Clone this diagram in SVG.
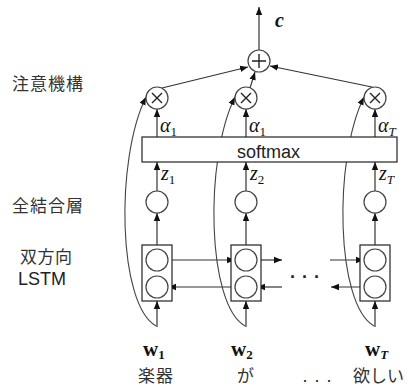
<svg xmlns="http://www.w3.org/2000/svg" width="407" height="389" viewBox="0 0 407 389">
<style>
.ln{stroke:#333;stroke-width:1.2;fill:none}
.cv{stroke:#444;stroke-width:1.1;fill:none}
.cir{stroke:#444;stroke-width:1.2;fill:#fff}
.box{stroke:#222;stroke-width:1.2;fill:#fff}
.jp{font-family:"Noto Sans CJK JP","Noto Sans",sans-serif;font-size:17px;fill:#333}
.sans{font-family:"Liberation Sans",Arial,sans-serif;fill:#222}
.m{font-family:"Liberation Serif","DejaVu Serif",serif;font-style:italic;font-size:20px;fill:#111}
.sub{font-size:13px}
.up{font-style:normal}
.w{font-family:"Liberation Serif","DejaVu Serif",serif;font-weight:bold;font-size:21px;fill:#111}
.op{stroke:#222;stroke-width:1.4;fill:none}
</style>
<defs>
<marker id="ah" viewBox="0 0 8 8" refX="8" refY="4" markerWidth="8" markerHeight="8" markerUnits="userSpaceOnUse" orient="auto">
<path d="M0,0.8 L8,4 L0,7.2 z" fill="#111"/>
</marker>
</defs>
<g id="labels-left">
<text class="jp" x="12" y="90" letter-spacing="1">注意機構</text>
<text class="jp" x="12" y="212" letter-spacing="1">全結合層</text>
<text class="jp" x="20" y="263" letter-spacing="0.5">双方向</text>
<text class="sans" x="18" y="285" font-size="18" fill="#333">LSTM</text>
</g>
<g id="connectors">
<line class="ln" x1="259" y1="50" x2="259" y2="7" marker-end="url(#ah)"/>
<line class="ln" x1="162" y1="88" x2="248" y2="67" marker-end="url(#ah)"/>
<line class="ln" x1="250" y1="88" x2="255" y2="72" marker-end="url(#ah)"/>
<line class="ln" x1="372" y1="87" x2="270" y2="66" marker-end="url(#ah)"/>
<line class="ln" x1="157" y1="137" x2="157" y2="109" marker-end="url(#ah)"/>
<line class="ln" x1="246" y1="137" x2="246" y2="109" marker-end="url(#ah)"/>
<line class="ln" x1="375" y1="137" x2="375" y2="109" marker-end="url(#ah)"/>
<line class="ln" x1="157" y1="191" x2="157" y2="162" marker-end="url(#ah)"/>
<line class="ln" x1="246" y1="191" x2="246" y2="162" marker-end="url(#ah)"/>
<line class="ln" x1="375" y1="191" x2="375" y2="162" marker-end="url(#ah)"/>
<line class="ln" x1="157" y1="245" x2="157" y2="213" marker-end="url(#ah)"/>
<line class="ln" x1="246" y1="245" x2="246" y2="213" marker-end="url(#ah)"/>
<line class="ln" x1="375" y1="245" x2="375" y2="213" marker-end="url(#ah)"/>
<line class="ln" x1="157" y1="327" x2="157" y2="301" marker-end="url(#ah)"/>
<line class="ln" x1="246" y1="327" x2="246" y2="301" marker-end="url(#ah)"/>
<line class="ln" x1="375" y1="327" x2="375" y2="301" marker-end="url(#ah)"/>
<line class="ln" x1="168" y1="260" x2="235" y2="260" marker-end="url(#ah)"/>
<line class="ln" x1="257" y1="260" x2="282" y2="260" marker-end="url(#ah)"/>
<line class="ln" x1="330" y1="260" x2="364" y2="260" marker-end="url(#ah)"/>
<line class="ln" x1="235" y1="287" x2="168" y2="287" marker-end="url(#ah)"/>
<line class="ln" x1="282" y1="287" x2="257" y2="287" marker-end="url(#ah)"/>
<line class="ln" x1="364" y1="287" x2="331" y2="287" marker-end="url(#ah)"/>
<path class="cv" d="M156,326 C118,305 115,160 146,97" marker-end="url(#ah)"/>
<path class="cv" d="M245,326 C207,305 204,160 235,97" marker-end="url(#ah)"/>
<path class="cv" d="M374,326 C336,305 333,160 364,97" marker-end="url(#ah)"/>
</g>
<g id="sum">
<circle class="cir" cx="259" cy="61" r="11"/>
<path class="op" d="M252,61 H266 M259,54 V68"/>
<text class="m" x="275" y="27" font-weight="bold" font-size="22">c</text>
</g>
<g id="mul1">
<circle class="cir" cx="157" cy="98" r="11"/>
<path class="op" d="M152,93 L162,103 M162,93 L152,103"/>
</g>
<g id="mul2">
<circle class="cir" cx="246" cy="98" r="11"/>
<path class="op" d="M241,93 L251,103 M251,93 L241,103"/>
</g>
<g id="mulT">
<circle class="cir" cx="375" cy="98" r="11"/>
<path class="op" d="M370,93 L380,103 M380,93 L370,103"/>
</g>
<g id="alpha-labels">
<text class="m" x="160" y="132">α<tspan class="sub up" dy="4">1</tspan></text>
<text class="m" x="249" y="132">α<tspan class="sub up" dy="4">1</tspan></text>
<text class="m" x="378" y="132">α<tspan class="sub" dy="4">T</tspan></text>
</g>
<g id="softmax">
<rect class="box" x="142" y="137" width="255" height="25"/>
<text class="sans" x="268.5" y="158" font-size="18" text-anchor="middle">softmax</text>
</g>
<g id="z-labels">
<text class="m" x="161" y="180">z<tspan class="sub up" dy="4">1</tspan></text>
<text class="m" x="250" y="180">z<tspan class="sub up" dy="4">2</tspan></text>
<text class="m" x="379" y="180">z<tspan class="sub" dy="4">T</tspan></text>
</g>
<g id="fc1"><circle class="cir" cx="157" cy="202" r="11"/></g>
<g id="fc2"><circle class="cir" cx="246" cy="202" r="11"/></g>
<g id="fcT"><circle class="cir" cx="375" cy="202" r="11"/></g>
<g id="lstm1">
<rect class="box" x="142" y="245" width="30" height="56"/>
<circle class="cir" cx="157" cy="260" r="11"/>
<circle class="cir" cx="157" cy="287" r="11"/>
</g>
<g id="lstm2">
<rect class="box" x="231" y="245" width="30" height="56"/>
<circle class="cir" cx="246" cy="260" r="11"/>
<circle class="cir" cx="246" cy="287" r="11"/>
</g>
<g id="lstmT">
<rect class="box" x="360" y="245" width="30" height="56"/>
<circle class="cir" cx="375" cy="260" r="11"/>
<circle class="cir" cx="375" cy="287" r="11"/>
</g>
<text class="sans" x="290" y="283" font-size="18" font-weight="bold" letter-spacing="6">···</text>
<g id="inputs">
<text class="w" x="143" y="356">w<tspan class="sub" font-weight="bold" dy="3">1</tspan></text>
<text class="w" x="231" y="356">w<tspan class="sub" font-weight="bold" dy="3">2</tspan></text>
<text class="w" x="365" y="356">w<tspan class="sub" font-style="italic" dy="3">T</tspan></text>
<text class="jp" x="138" y="382" letter-spacing="1">楽器</text>
<text class="jp" x="237" y="382">が</text>
<text class="sans" x="302" y="386" font-size="18" letter-spacing="6">···</text>
<text class="jp" x="353" y="382">欲しい</text>
</g>
</svg>
